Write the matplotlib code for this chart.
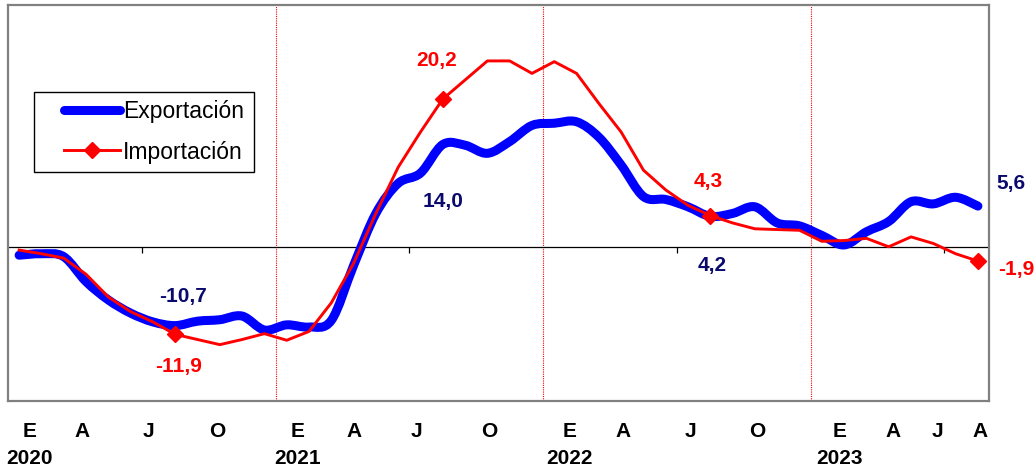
import matplotlib
matplotlib.use('Agg')
import matplotlib.pyplot as plt
from matplotlib.path import Path
from matplotlib.patches import PathPatch
from matplotlib.lines import Line2D
from matplotlib.legend_handler import HandlerLine2D

# monthly rates, Jan 2020 .. Aug 2023
exportacion = [-1.1, -0.9, -1.3, -4.7, -7.2, -9.0, -10.2, -10.7, -10.1, -9.9, -9.4, -11.3,
               -10.6, -10.9, -10.0, -2.5, 4.6, 8.7, 10.1, 14.0, 13.9, 12.8, 14.4, 16.6,
               16.9, 17.1, 15.0, 11.2, 6.9, 6.5, 5.5, 4.2, 4.6, 5.5, 3.3, 2.9,
               1.6, 0.3, 2.1, 3.5, 6.2, 5.9, 6.8, 5.6]
importacion = [-0.4, -0.9, -1.5, -3.7, -6.8, -8.8, -10.2, -11.9, -12.6, -13.3, -12.6, -11.8,
               -12.7, -11.5, -7.6, -2.2, 4.6, 10.9, 15.7, 20.2, 22.8, 25.4, 25.4, 23.7,
               25.3, 23.7, 19.6, 15.7, 10.5, 7.8, 5.7, 4.3, 3.3, 2.5, 2.4, 2.3,
               0.8, 0.9, 1.2, 0.05, 1.4, 0.5, -0.9, -1.9]

mes_labels = ['E\n2020', 'A', 'J', 'O', 'E\n2021', 'A', 'J', 'O',
              'E\n2022', 'A', 'J', 'O', 'E\n2023', 'A', 'J', 'A']
mes_pos = [0.45, 2.8, 5.8, 8.9, 12.5, 15.0, 17.8, 21.1,
           24.7, 27.1, 30.1, 33.1, 36.8, 39.2, 41.2, 43.1]

marcados = [7, 19, 31, 43]   # months with a marker / value label

x = list(range(len(exportacion)))


def curva_suave(xs, ys):
    # smoothed line like the spreadsheet one: cubic bezier through every point
    n = len(xs)
    verts = [(xs[0], ys[0])]
    codes = [Path.MOVETO]
    for i in range(n - 1):
        a = max(i - 1, 0)
        b = min(i + 2, n - 1)
        c1 = (xs[i] + (xs[i + 1] - xs[a]) / 6, ys[i] + (ys[i + 1] - ys[a]) / 6)
        c2 = (xs[i + 1] - (xs[b] - xs[i]) / 6, ys[i + 1] - (ys[b] - ys[i]) / 6)
        verts += [c1, c2, (xs[i + 1], ys[i + 1])]
        codes += [Path.CURVE4] * 3
    return Path(verts, codes)


fig = plt.figure(figsize=(10.36, 4.73), dpi=100)
ax = fig.add_axes([0.0077, 0.152, 0.947, 0.837])

bold = ['Liberation Sans', 'DejaVu Sans']

# year separators and zero line
for xv in [11.5, 23.5, 35.5]:
    ax.axvline(xv, color='red', lw=0.8, ls=(0, (1, 1)), zorder=1)
ax.axhline(0, color='black', lw=0.9, zorder=1)
ax.plot([5.5, 17.5, 29.5, 41.5], [0, 0, 0, 0], ls='none', marker=3,
        ms=4, mew=0.9, color='black', zorder=1)

azul = PathPatch(curva_suave(x, exportacion), facecolor='none', edgecolor='#0000ff',
                 lw=6.5, joinstyle='round', capstyle='round', zorder=3)
ax.add_patch(azul)
ax.plot(x, importacion, color='#ff0000', lw=2.1, marker='D', ms=8,
        markevery=marcados, zorder=4)

# value labels
navy = '#0a0a6e'
def etiqueta(i, serie, dx, dy, color):
    v = serie[i]
    txt = ('%.1f' % v).replace('.', ',')
    ax.text(i + dx, v + dy, txt, color=color, fontsize=15, fontweight='bold',
            family=bold, ha='center', va='center')

etiqueta(7, exportacion, 0.35, 4.0, navy)
etiqueta(7, importacion, 0.15, -4.4, 'red')
etiqueta(19, importacion, -0.27, 5.3, 'red')
etiqueta(19, exportacion, 0.03, -7.8, navy)
etiqueta(31, importacion, -0.1, 4.6, 'red')
etiqueta(31, exportacion, 0.1, -6.75, navy)
etiqueta(43, exportacion, 1.5, 3.1, navy)
etiqueta(43, importacion, 1.7, -1.1, 'red')

ax.set_xlim(-0.5, 43.5)
ax.set_ylim(-21, 33)
ax.set_yticks([])
ax.set_xticks(mes_pos)
ax.set_xticklabels(mes_labels, fontsize=15, fontweight='bold', family=bold,
                   linespacing=1.55)
ax.tick_params(axis='x', length=0, pad=15)
for lbl in ax.get_xticklabels():
    lbl.set_verticalalignment('top')

for s in ax.spines.values():
    s.set_color('#808080')
    s.set_linewidth(1.6)

h_exp = Line2D([], [], color='#0000ff', lw=6.5, solid_capstyle='round')
h_imp = Line2D([], [], color='#ff0000', lw=2.1, marker='D', ms=8)
fs = 16.5
leg = ax.legend([h_exp, h_imp], ['Exportación', 'Importación'],
                loc='upper left', bbox_to_anchor=(0.0265, 0.68, 0.2245, 0.1),
                mode='expand', prop={'family': bold, 'size': fs},
                fancybox=False, edgecolor='black', framealpha=1,
                handlelength=3.4, labelspacing=0.75, borderpad=0.35,
                handletextpad=0.15, borderaxespad=0,
                handler_map={h_exp: HandlerLine2D(xpad=0.95),
                             h_imp: HandlerLine2D(xpad=0.95)})
leg.get_frame().set_linewidth(1.0)

fig.savefig('out.png', dpi=100)
